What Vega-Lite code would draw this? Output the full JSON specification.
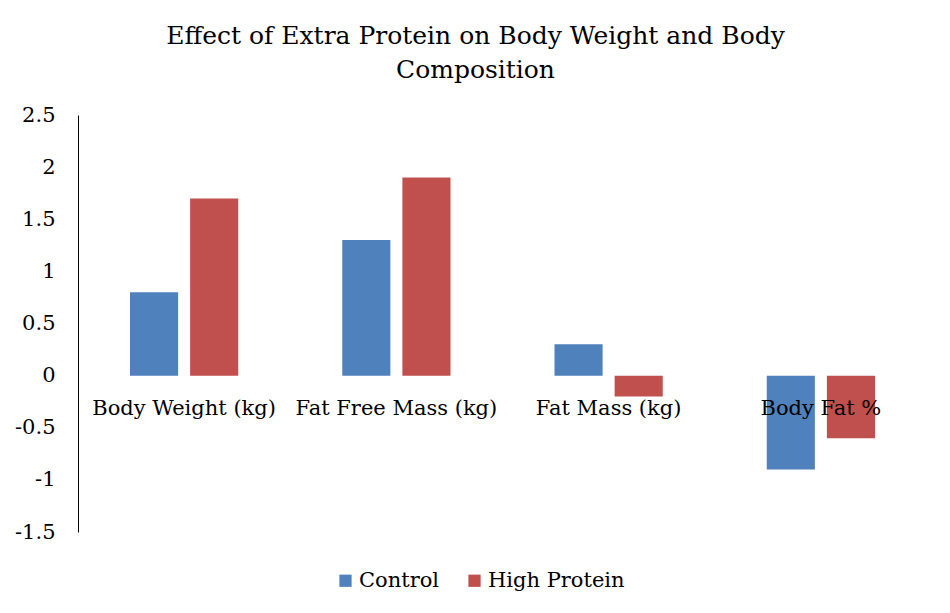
{
  "$schema": "https://vega.github.io/schema/vega-lite/v6.json",
  "description": "grouped bar chart - effect of extra protein",
  "width": 849,
  "height": 417,
  "autosize": "none",
  "padding": {"left": 78, "top": 115, "right": 23, "bottom": 81},
  "background": "white",
  "title": {
    "text": ["Effect of Extra Protein on Body Weight and Body", "Composition"],
    "font": "DejaVu Serif",
    "fontSize": 25,
    "fontWeight": "normal",
    "color": "black",
    "lineHeight": 34,
    "anchor": "middle",
    "dx": -27,
    "offset": 21
  },
  "config": {
    "view": {"stroke": null},
    "font": "DejaVu Serif"
  },
  "data": {
    "values": [
      {"Category": "Body Weight (kg)", "Group": "Control", "Value": 0.8},
      {"Category": "Body Weight (kg)", "Group": "High Protein", "Value": 1.7},
      {"Category": "Fat Free Mass (kg)", "Group": "Control", "Value": 1.3},
      {"Category": "Fat Free Mass (kg)", "Group": "High Protein", "Value": 1.9},
      {"Category": "Fat Mass (kg)", "Group": "Control", "Value": 0.3},
      {"Category": "Fat Mass (kg)", "Group": "High Protein", "Value": -0.2},
      {"Category": "Body Fat %", "Group": "Control", "Value": -0.9},
      {"Category": "Body Fat %", "Group": "High Protein", "Value": -0.6}
    ]
  },
  "encoding": {
    "x": {
      "field": "Category",
      "type": "nominal",
      "sort": null,
      "axis": null,
      "scale": {"paddingInner": 0.49, "paddingOuter": 0.245}
    }
  },
  "layer": [
    {
      "mark": {"type": "bar"},
      "encoding": {
        "xOffset": {
          "field": "Group",
          "type": "nominal",
          "scale": {"paddingInner": 0.2, "paddingOuter": 0}
        },
        "y": {
          "field": "Value",
          "type": "quantitative",
          "title": null,
          "scale": {"domain": [-1.5, 2.5], "nice": false, "zero": false},
          "axis": {
            "values": [-1.5, -1, -0.5, 0, 0.5, 1, 1.5, 2, 2.5],
            "labelExpr": "'' + datum.value",
            "grid": false,
            "ticks": false,
            "domain": true,
            "domainColor": "black",
            "domainWidth": 1,
            "labelFont": "DejaVu Serif",
            "labelFontSize": 21,
            "labelColor": "black",
            "labelPadding": 23
          }
        },
        "color": {
          "field": "Group",
          "type": "nominal",
          "scale": {"domain": ["Control", "High Protein"], "range": ["#4F81BD", "#C0504D"]},
          "legend": {
            "title": null,
            "orient": "none",
            "direction": "horizontal",
            "legendX": 257,
            "legendY": 455,
            "symbolType": "square",
            "symbolSize": 150,
            "symbolStrokeWidth": 0,
            "labelFont": "DejaVu Serif",
            "labelFontSize": 21,
            "labelColor": "black",
            "labelOffset": 3,
            "columnPadding": 24
          }
        }
      }
    },
    {
      "mark": {"type": "rule", "color": "black", "strokeWidth": 1.5},
      "encoding": {
        "y": {"datum": 0, "type": "quantitative"}
      }
    },
    {
      "transform": [{"filter": "datum.Group == 'Control'"}],
      "mark": {
        "type": "text",
        "font": "DejaVu Serif",
        "fontSize": 21,
        "color": "black",
        "baseline": "alphabetic",
        "align": "center",
        "dy": 39
      },
      "encoding": {
        "y": {"datum": 0, "type": "quantitative"},
        "text": {"field": "Category"}
      }
    }
  ]
}
